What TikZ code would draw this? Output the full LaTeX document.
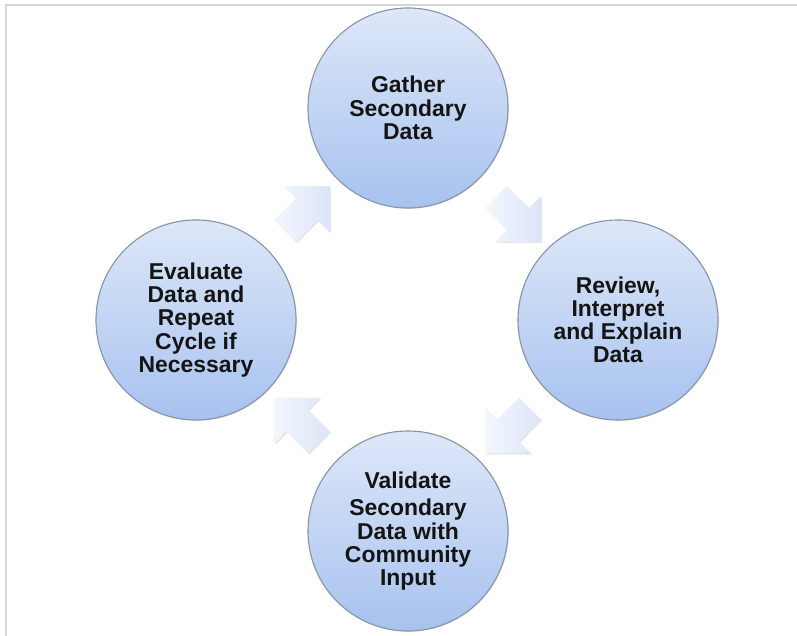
\documentclass[tikz,border=0pt]{standalone}
\usepackage{fontspec}
\setmainfont{Liberation Sans}
\usetikzlibrary{shapes.arrows,shadows,calc}

\definecolor{stagetop}{HTML}{DDE7F8}
\definecolor{stagebottom}{HTML}{A7C2EF}
\definecolor{stageline}{HTML}{8A94A6}
\definecolor{arrowlight}{HTML}{F3F6FD}
\definecolor{arrowdark}{HTML}{DCE5F8}
\definecolor{framegray}{HTML}{D6D6D6}

\begin{document}
\begin{tikzpicture}[x=0.025cm, y=-0.025cm,
        stage/.style={circle, draw=stageline, line width=0.8pt, top color=stagetop, bottom color=stagebottom,
            minimum size=5cm, inner sep=0pt, align=center, text=black!92,
            font=\bfseries\fontsize{16.3}{16.5}\selectfont,
            drop shadow={opacity=0.2, shadow xshift=0.6pt, shadow yshift=-0.6pt}},
        cyclearrow/.style={single arrow, single arrow tip angle=90, single arrow head extend=0.425cm,
            minimum height=1.58cm, minimum width=1.6cm, inner xsep=0pt, inner ysep=0.375cm, draw=none,
            left color=arrowlight, right color=arrowdark,
            drop shadow={opacity=0.2, shadow xshift=1pt, shadow yshift=-1pt}}]
            \useasboundingbox (0,0) rectangle (797,636);

            \coordinate (frameright) at (797,5);
            \coordinate (framecorner) at (6,5);
            \coordinate (framebottom) at (6,636);
            \draw[framegray, line width=1.2pt] (frameright) -- (framecorner) -- (framebottom);

            \node[stage] (gather) at (408,108) {Gather\\Secondary\\Data};
            \node[stage] (review) at (618,320) {Review,\\Interpret\\and Explain\\Data};
            \node[stage] (validate) at (408,531) {Validate\\[3pt]Secondary\\Data with\\Community\\Input};
            \node[stage] (evaluate) at (196,320) {Evaluate\\Data and\\Repeat\\Cycle if\\Necessary};

            \node[cyclearrow, rotate=-45] (gatherreview) at ($(gather)!0.5!(review)$) {};
            \node[cyclearrow, rotate=-135] (reviewvalidate) at ($(review)!0.5!(validate)$) {};
            \node[cyclearrow, rotate=135] (validateevaluate) at ($(validate)!0.5!(evaluate)$) {};
            \node[cyclearrow, rotate=45] (evaluategather) at ($(evaluate)!0.5!(gather)$) {};
        \end{tikzpicture}
\end{document}
